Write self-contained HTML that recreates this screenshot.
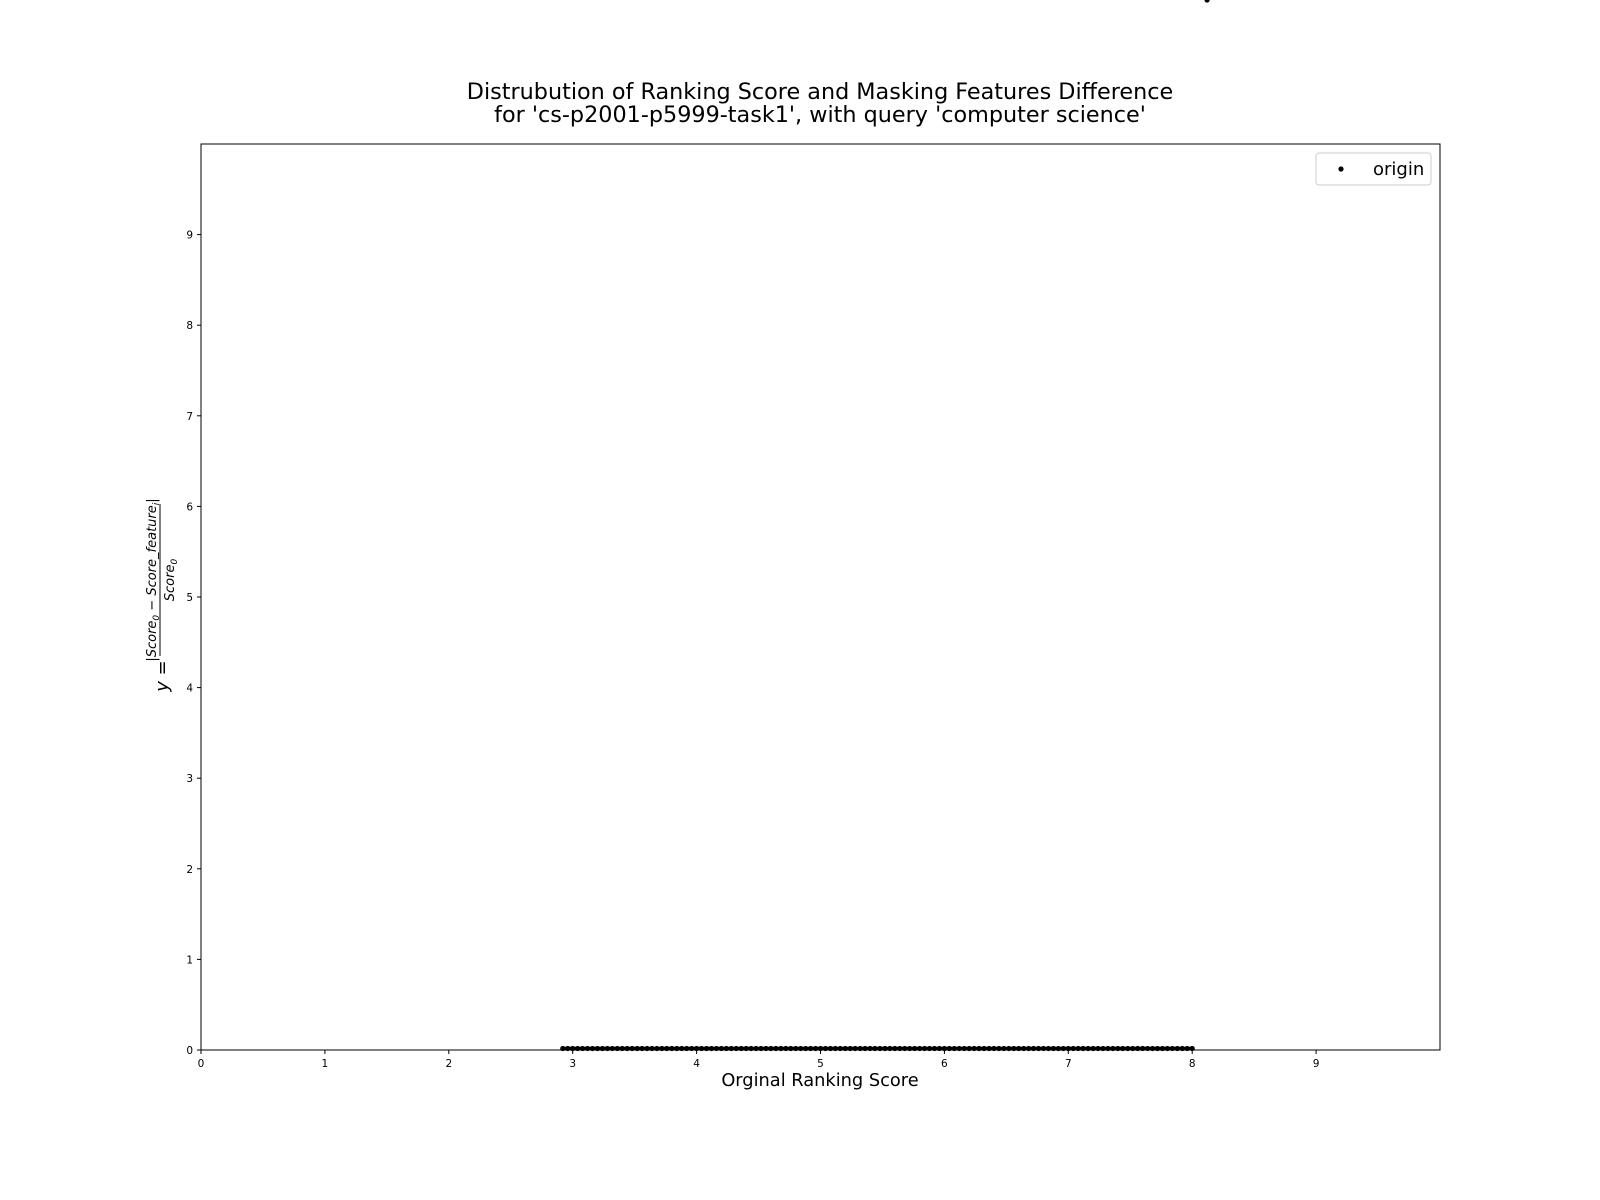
<!DOCTYPE html>
<html><head><meta charset="utf-8"><style>
body{margin:0;background:#fff;overflow:hidden;}
svg{font-family:"DejaVu Sans","Liberation Sans",sans-serif;display:block;}
</style></head><body>
<svg id="chart" width="1600" height="1200" xmlns="http://www.w3.org/2000/svg">
<rect width="1600" height="1200" fill="#fff"/>
<text x="820" y="99" text-anchor="middle" font-size="22.3">Distrubution of Ranking Score and Masking Features Difference</text>
<text x="820" y="122" text-anchor="middle" font-size="22.3">for 'cs-p2001-p5999-task1', with query 'computer science'</text>
<g id="ticks"></g>
<g id="marks"></g>
<rect x="201" y="144" width="1239" height="906" fill="none" stroke="#000" stroke-width="1"/>
<text x="820" y="1086" text-anchor="middle" font-size="17.8">Orginal Ranking Score</text>
<g transform="translate(160,580) rotate(-90)">
<text x="-96" y="8" text-anchor="middle" font-size="18" font-style="italic">y =</text>
<text x="0" y="-4" text-anchor="middle" font-size="13" font-style="italic">|Score<tspan font-size="9" dy="3">0</tspan><tspan dy="-3"> − Score_feature</tspan><tspan font-size="9" dy="3">i</tspan><tspan dy="-3">|</tspan></text>
<line x1="-76" y1="0" x2="76" y2="0" stroke="#000" stroke-width="1"/>
<text x="0" y="14" text-anchor="middle" font-size="13" font-style="italic">Score<tspan font-size="9" dy="3">0</tspan></text>
</g>
<g>
<rect x="1316" y="153" width="115" height="32" rx="3" fill="#fff" stroke="#ccc"/>
<circle cx="1341" cy="169" r="2.6" fill="#000"/>
<text x="1373" y="175" font-size="18">origin</text>
</g>
</svg>
<script>
const xTicks=[0,1,2,3,4,5,6,7,8,9];
const yTicks=[0,1,2,3,4,5,6,7,8,9];
const scoreX=[2.92,2.96,3.0,3.04,3.08,3.12,3.16,3.2,3.24,3.28,3.32,3.36,3.4,3.44,3.48,3.52,3.56,3.6,3.64,3.68,3.72,3.76,3.8,3.84,3.88,3.92,3.96,4.0,4.04,4.08,4.12,4.16,4.2,4.24,4.28,4.32,4.36,4.4,4.44,4.48,4.52,4.56,4.6,4.64,4.68,4.72,4.76,4.8,4.84,4.88,4.92,4.96,5.0,5.04,5.08,5.12,5.16,5.2,5.24,5.28,5.32,5.36,5.4,5.44,5.48,5.52,5.56,5.6,5.64,5.68,5.72,5.76,5.8,5.84,5.88,5.92,5.96,6.0,6.04,6.08,6.12,6.16,6.2,6.24,6.28,6.32,6.36,6.4,6.44,6.48,6.52,6.56,6.6,6.64,6.68,6.72,6.76,6.8,6.84,6.88,6.92,6.96,7.0,7.04,7.08,7.12,7.16,7.2,7.24,7.28,7.32,7.36,7.4,7.44,7.48,7.52,7.56,7.6,7.64,7.68,7.72,7.76,7.8,7.84,7.88,7.92,7.96,8.0,8.12];
const diffY=[0.01,0.01,0.01,0.01,0.01,0.01,0.01,0.01,0.01,0.01,0.01,0.01,0.01,0.01,0.01,0.01,0.01,0.01,0.01,0.01,0.01,0.01,0.01,0.01,0.01,0.01,0.01,0.01,0.01,0.01,0.01,0.01,0.01,0.01,0.01,0.01,0.01,0.01,0.01,0.01,0.01,0.01,0.01,0.01,0.01,0.01,0.01,0.01,0.01,0.01,0.01,0.01,0.01,0.01,0.01,0.01,0.01,0.01,0.01,0.01,0.01,0.01,0.01,0.01,0.01,0.01,0.01,0.01,0.01,0.01,0.01,0.01,0.01,0.01,0.01,0.01,0.01,0.01,0.01,0.01,0.01,0.01,0.01,0.01,0.01,0.01,0.01,0.01,0.01,0.01,0.01,0.01,0.01,0.01,0.01,0.01,0.01,0.01,0.01,0.01,0.01,0.01,0.01,0.01,0.01,0.01,0.01,0.01,0.01,0.01,0.01,0.01,0.01,0.01,0.01,0.01,0.01,0.01,0.01,0.01,0.01,0.01,0.01,0.01,0.01,0.01,0.01,0.01];
const NS="http://www.w3.org/2000/svg";
const X0=201,PX=123.9,Y0=1050,PY=90.6;
const sx=v=>X0+v*PX, sy=v=>Y0-v*PY;
const ticks=document.getElementById('ticks'), marks=document.getElementById('marks');
function mk(t,a,p){const e=document.createElementNS(NS,t);for(const k in a)e.setAttribute(k,a[k]);p.appendChild(e);return e;}
xTicks.forEach(v=>{
 const l=mk('line',{x1:sx(v),x2:sx(v),y1:Y0,y2:Y0+4,stroke:'#000'},ticks);
 
 
 const t=mk('text',{x:sx(v),y:Y0+17,'text-anchor':'middle','font-size':'10.5'},ticks);t.textContent=v;
 
 
});
yTicks.forEach(v=>{
 const l=mk('line',{x1:X0-4,x2:X0,y1:sy(v),y2:sy(v),stroke:'#000'},ticks);
 
 
 const t=mk('text',{x:X0-8,y:sy(v)+4,'text-anchor':'end','font-size':'10.5'},ticks);t.textContent=v;
 
 
});
const ptsStr=scoreX.slice(0,-1).map((v,i)=>sx(v).toFixed(1)+','+Math.min(sy(diffY[i]),Y0-1.5).toFixed(1)).join(' ');
const band=mk('polyline',{points:ptsStr,fill:'none',stroke:'#000','stroke-width':'3.5'},marks);


scoreX.forEach((v,i)=>{
 const c=mk('circle',{cx:sx(v),cy:Math.min(sy(diffY[i]),Y0-1.5),r:2.6,fill:'#000'},marks);
 
 
});
</script>
</body></html>
